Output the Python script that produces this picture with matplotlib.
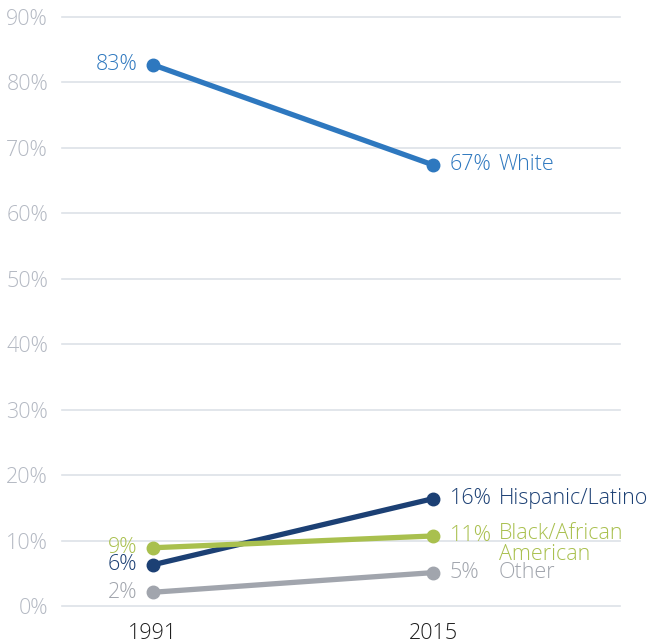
import numpy as np
import matplotlib as mpl
mpl.use('Agg')
from matplotlib import pyplot as plt

plt.rcParams['font.family'] = ['Open Sans', 'DejaVu Sans']

years = ["1991", "2015"]
groups = ["White", "Hispanic/Latino", "Black/African\nAmerican", "Other"]
v1991 = [82.7, 6.3, 8.9, 2.1]
v2015 = [67.4, 16.4, 10.7, 5.1]
lab1991 = ["83%", "6%", "9%", "2%"]
lab2015 = ["67%", "16%", "11%", "5%"]
colors = ["#2e78bf", "#1c4074", "#a9c04e", "#a1a5ad"]
yticks = list(range(0, 100, 10))

FS = 15.5

fig = plt.figure(figsize=(6.52, 6.43), dpi=100)
W, H = 652, 643
# axes placed so gridlines run from x=62 to x=620 px, 0% at y=606, 90% at y=17
ax = fig.add_axes([62 / W, (643 - 606) / H, (620 - 62) / W, (606 - 17) / H])
ax.set_xlim(-91 / 280, (620 - 153) / 280)
ax.set_ylim(0, 90)
for s in ax.spines.values():
    s.set_visible(False)

for t in yticks:
    ax.axhline(t, color="#dde1e8", lw=1.2, zorder=0, clip_on=False)
ax.set_yticks(yticks)
ax.set_yticklabels([f"{t}%" for t in yticks], color="#b4b9c3", fontsize=FS,
                   fontweight="light")
ax.tick_params(axis="y", length=0, pad=10)
ax.set_xticks([0, 1])
ax.set_xticklabels(years, color="#1e1e1e", fontsize=FS, fontweight="light")
ax.tick_params(axis="x", length=0, pad=12)

for i in range(len(groups)):
    ax.plot([0, 1], [v1991[i], v2015[i]], color=colors[i], lw=3.8,
            marker="o", ms=9, solid_capstyle="round", clip_on=False, zorder=3)
    ax.text(-0.055, v1991[i], lab1991[i], color=colors[i], fontsize=FS,
            fontweight="light", ha="right", va="center")
    ax.text(1.06, v2015[i], lab2015[i], color=colors[i], fontsize=FS,
            fontweight="light", ha="left", va="center")
    if "\n" in groups[i]:
        ax.annotate(groups[i], (1.235, v2015[i]), xytext=(0, 9.5),
                    textcoords="offset points", color=colors[i], fontsize=FS,
                    fontweight="light", ha="left", va="top", linespacing=1.0)
    else:
        ax.text(1.235, v2015[i], groups[i], color=colors[i], fontsize=FS,
                fontweight="light", ha="left", va="center")

fig.savefig("out.png")
